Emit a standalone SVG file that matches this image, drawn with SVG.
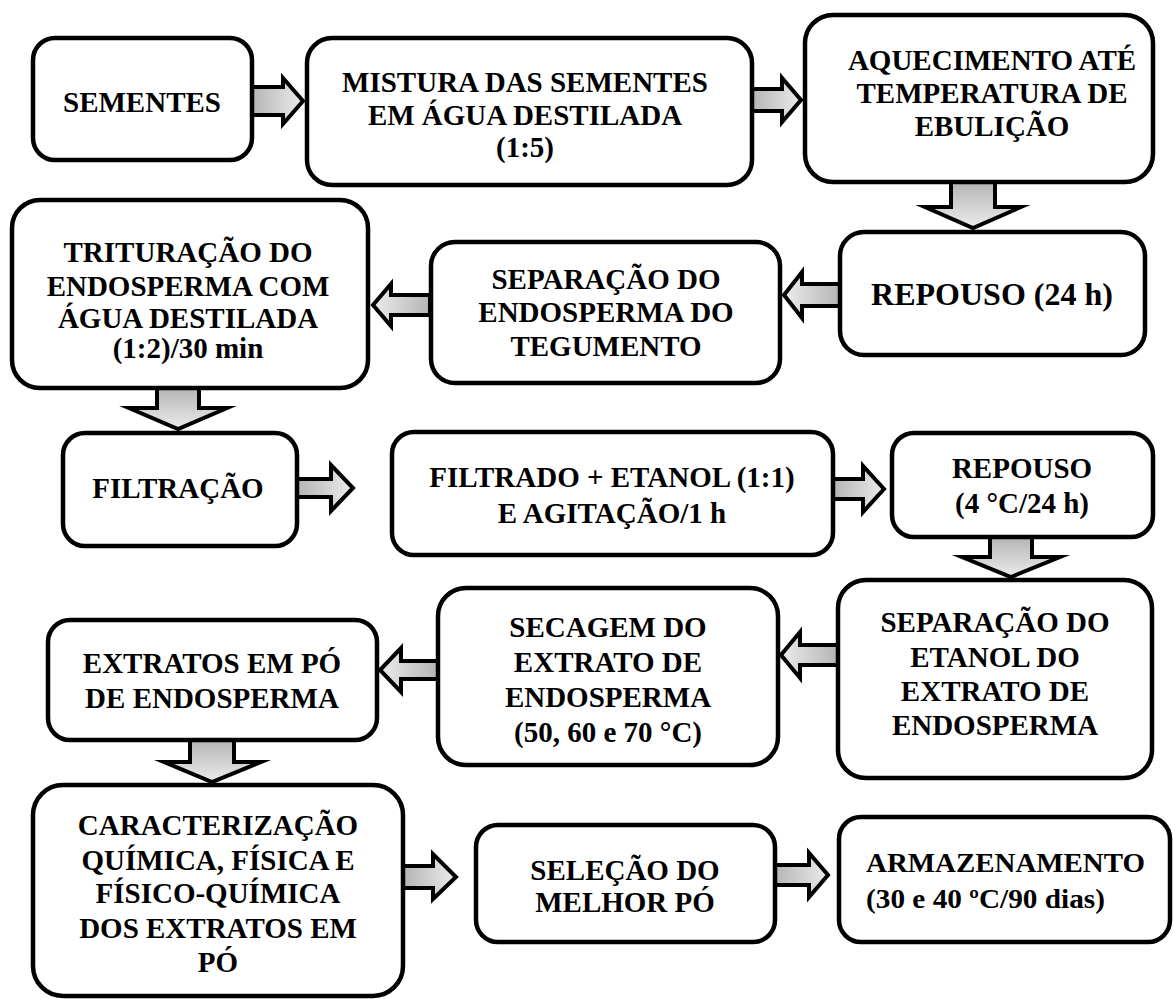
<svg xmlns="http://www.w3.org/2000/svg" width="1173" height="999" viewBox="0 0 1173 999">
<defs>
<style>
.box{fill:#fff;stroke:#000;stroke-width:4.5}
.arr{stroke:#000;stroke-width:4;stroke-linejoin:miter;stroke-miterlimit:10}
text{font-family:"Liberation Serif","Times New Roman",serif;font-weight:bold;font-size:29px;fill:#000;text-anchor:middle}
</style>
<linearGradient id="gR" x1="0" y1="0" x2="1" y2="0"><stop offset="0" stop-color="#b4b4b4"/><stop offset="1" stop-color="#ececec"/></linearGradient>
<linearGradient id="gL" x1="1" y1="0" x2="0" y2="0"><stop offset="0" stop-color="#b4b4b4"/><stop offset="1" stop-color="#ececec"/></linearGradient>
<linearGradient id="gD" x1="0" y1="0" x2="0" y2="1"><stop offset="0" stop-color="#b4b4b4"/><stop offset="1" stop-color="#ececec"/></linearGradient>
</defs>
<rect width="1173" height="999" fill="#fff"/>

<g id="connectors">
<path class="arr" fill="url(#gR)" d="M252,87 L283,87 L283,78 L303,101 L283,124 L283,115 L252,115 Z"/>
<path class="arr" fill="url(#gR)" d="M752,89 L782,89 L782,78 L801,100 L782,122 L782,111 L752,111 Z"/>
<path class="arr" fill="url(#gD)" d="M951,182 L951,207 L925,207 L973,228 L1021,207 L995,207 L995,182 Z"/>
<path class="arr" fill="url(#gL)" d="M840,284 L802,284 L802,272 L784,295 L802,318 L802,306 L840,306 Z"/>
<path class="arr" fill="url(#gL)" d="M430,295 L391,295 L391,284 L373,305 L391,326 L391,315 L430,315 Z"/>
<path class="arr" fill="url(#gD)" d="M157,388 L157,408 L129,408 L178,429 L227,408 L199,408 L199,388 Z"/>
<path class="arr" fill="url(#gR)" d="M297,479 L331,479 L331,465 L353,488 L331,511 L331,497 L297,497 Z"/>
<path class="arr" fill="url(#gR)" d="M833,479 L863,479 L863,466 L884,489 L863,512 L863,499 L833,499 Z"/>
<path class="arr" fill="url(#gD)" d="M990,537 L990,557 L962,557 L1011,577 L1060,557 L1032,557 L1032,537 Z"/>
<path class="arr" fill="url(#gL)" d="M838,645 L800,645 L800,632 L781,655 L800,678 L800,665 L838,665 Z"/>
<path class="arr" fill="url(#gL)" d="M438,661 L401,661 L401,648 L380,670 L401,692 L401,679 L438,679 Z"/>
<path class="arr" fill="url(#gD)" d="M190,740 L190,762 L164,762 L212,782 L261,762 L234,762 L234,740 Z"/>
<path class="arr" fill="url(#gR)" d="M403,866 L433,866 L433,854 L456,877 L433,899 L433,888 L403,888 Z"/>
<path class="arr" fill="url(#gR)" d="M775,865 L809,865 L809,853 L828,875 L809,897 L809,885 L775,885 Z"/>
</g>

<g id="n-sementes">
<rect class="box" x="33" y="38" width="219" height="122" rx="22"/>
<text x="142" y="112">SEMENTES</text>
</g>
<g id="n-mistura">
<rect class="box" x="307" y="38" width="445" height="147" rx="25"/>
<text x="525" y="92">MISTURA DAS SEMENTES</text>
<text x="525" y="125">EM ÁGUA DESTILADA</text>
<text x="525" y="157">(1:5)</text>
</g>
<g id="n-aquecimento">
<rect class="box" x="805" y="15" width="348" height="167" rx="28"/>
<text x="992" y="70">AQUECIMENTO ATÉ</text>
<text x="992" y="103">TEMPERATURA DE</text>
<text x="992" y="136">EBULIÇÃO</text>
</g>
<g id="n-repouso24">
<rect class="box" x="840" y="232" width="305" height="123" rx="24"/>
<text x="992" y="305" style="font-size:32px">REPOUSO (24 h)</text>
</g>
<g id="n-separacao-endosperma">
<rect class="box" x="431" y="242" width="349" height="141" rx="24"/>
<text x="606" y="289">SEPARAÇÃO DO</text>
<text x="606" y="322">ENDOSPERMA DO</text>
<text x="606" y="356">TEGUMENTO</text>
</g>
<g id="n-trituracao">
<rect class="box" x="12" y="200" width="356" height="188" rx="28"/>
<text x="188" y="262">TRITURAÇÃO DO</text>
<text x="188" y="296">ENDOSPERMA COM</text>
<text x="188" y="328">ÁGUA DESTILADA</text>
<text x="188" y="358">(1:2)/30 min</text>
</g>
<g id="n-filtracao">
<rect class="box" x="63" y="433" width="234" height="113" rx="22"/>
<text x="178" y="498">FILTRAÇÃO</text>
</g>
<g id="n-filtrado">
<rect class="box" x="392" y="432" width="441" height="123" rx="22"/>
<text x="612" y="487">FILTRADO + ETANOL (1:1)</text>
<text x="612" y="523">E AGITAÇÃO/1 h</text>
</g>
<g id="n-repouso4">
<rect class="box" x="892" y="433" width="261" height="104" rx="22"/>
<text x="1022" y="478">REPOUSO</text>
<text x="1022" y="513">(4 °C/24 h)</text>
</g>
<g id="n-separacao-etanol">
<rect class="box" x="838" y="580" width="314" height="198" rx="28"/>
<text x="995" y="632">SEPARAÇÃO DO</text>
<text x="995" y="667">ETANOL DO</text>
<text x="995" y="701">EXTRATO DE</text>
<text x="995" y="735">ENDOSPERMA</text>
</g>
<g id="n-secagem">
<rect class="box" x="438" y="588" width="340" height="177" rx="28"/>
<text x="608" y="637">SECAGEM DO</text>
<text x="608" y="672">EXTRATO DE</text>
<text x="608" y="707">ENDOSPERMA</text>
<text x="608" y="742">(50, 60 e 70 °C)</text>
</g>
<g id="n-extratos">
<rect class="box" x="48" y="620" width="329" height="120" rx="22"/>
<text x="212" y="673">EXTRATOS EM PÓ</text>
<text x="212" y="708">DE ENDOSPERMA</text>
</g>
<g id="n-caracterizacao">
<rect class="box" x="33" y="785" width="370" height="211" rx="30"/>
<text x="218" y="835">CARACTERIZAÇÃO</text>
<text x="218" y="870">QUÍMICA, FÍSICA E</text>
<text x="218" y="903">FÍSICO-QUÍMICA</text>
<text x="218" y="938">DOS EXTRATOS EM</text>
<text x="218" y="972">PÓ</text>
</g>
<g id="n-selecao">
<rect class="box" x="476" y="825" width="299" height="117" rx="22"/>
<text x="625" y="880">SELEÇÃO DO</text>
<text x="625" y="912">MELHOR PÓ</text>
</g>
<g id="n-armazenamento">
<rect class="box" x="839" y="817" width="331" height="125" rx="22"/>
<text x="866" y="872" style="text-anchor:start;font-size:27px" textLength="279" lengthAdjust="spacingAndGlyphs">ARMAZENAMENTO</text>
<text x="866" y="908" style="text-anchor:start;font-size:27px" textLength="239" lengthAdjust="spacingAndGlyphs">(30 e 40 ºC/90 dias)</text>
</g>
</svg>
